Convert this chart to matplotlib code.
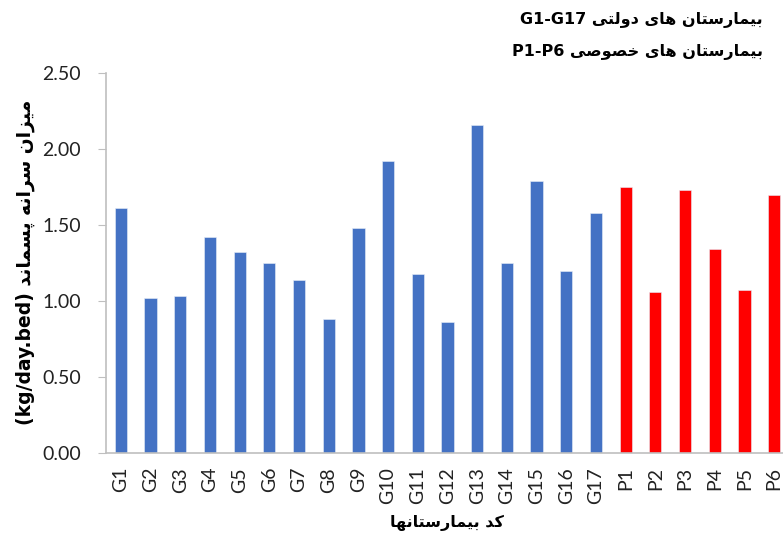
import re
import matplotlib
matplotlib.use("Agg")
import matplotlib.pyplot as plt

# data
gov_labels = ["G%d" % i for i in range(1, 18)]
gov_values = [1.61, 1.02, 1.03, 1.42, 1.32, 1.25, 1.14, 0.88, 1.48, 1.92,
              1.18, 0.86, 2.16, 1.25, 1.79, 1.20, 1.58]
priv_labels = ["P%d" % i for i in range(1, 7)]
priv_values = [1.75, 1.06, 1.73, 1.34, 1.07, 1.70]

title_gov = "بیمارستان های دولتی G1-G17"
title_priv = "بیمارستان های خصوصی P1-P6"
ylabel = "میزان سرانه پسماند (kg/day.bed)"
xlabel = "کد بیمارستانها"

# minimal Persian shaping + right-to-left ordering (matplotlib has no bidi)
FORMS = {
    "ا": ("\uFE8D", "\uFE8E", None, None),
    "ب": ("\uFE8F", "\uFE90", "\uFE91", "\uFE92"),
    "پ": ("\uFB56", "\uFB57", "\uFB58", "\uFB59"),
    "ت": ("\uFE95", "\uFE96", "\uFE97", "\uFE98"),
    "خ": ("\uFEA5", "\uFEA6", "\uFEA7", "\uFEA8"),
    "د": ("\uFEA9", "\uFEAA", None, None),
    "ر": ("\uFEAD", "\uFEAE", None, None),
    "ز": ("\uFEAF", "\uFEB0", None, None),
    "س": ("\uFEB1", "\uFEB2", "\uFEB3", "\uFEB4"),
    "ص": ("\uFEB9", "\uFEBA", "\uFEBB", "\uFEBC"),
    "ک": ("\uFB8E", "\uFB8F", "\uFB90", "\uFB91"),
    "ل": ("\uFEDD", "\uFEDE", "\uFEDF", "\uFEE0"),
    "م": ("\uFEE1", "\uFEE2", "\uFEE3", "\uFEE4"),
    "ن": ("\uFEE5", "\uFEE6", "\uFEE7", "\uFEE8"),
    "ه": ("\uFEE9", "\uFEEA", "\uFEEB", "\uFEEC"),
    "و": ("\uFEED", "\uFEEE", None, None),
    "ی": ("\uFEEF", "\uFEF0", "\uFEF3", "\uFEF4"),
}


def shape(text):
    out = []
    for i, c in enumerate(text):
        if c not in FORMS:
            out.append(c)
            continue
        prev = text[i - 1] if i > 0 else ""
        nxt = text[i + 1] if i + 1 < len(text) else ""
        jp = prev in FORMS and FORMS[prev][2] is not None
        jn = FORMS[c][2] is not None and nxt in FORMS
        iso, fin, ini, med = FORMS[c]
        out.append(med if (jp and jn) else fin if jp else ini if jn else iso)
    return "".join(out)


def rtl(text):
    parts = re.split(r"([A-Za-z0-9][A-Za-z0-9./\-]*)", shape(text))
    out = []
    for p in reversed(parts):
        if re.match(r"[A-Za-z0-9]", p):
            out.append(p)
        else:
            out.append(p[::-1].translate(str.maketrans("()", ")(")))
    return "".join(out)


labels = gov_labels + priv_labels
values = gov_values + priv_values
colors = ["#4472C4"] * len(gov_values) + ["#FF0000"] * len(priv_values)

fig = plt.figure(figsize=(7.83, 5.35), dpi=100)
ax = fig.add_axes([106 / 783, 82 / 535, 683 / 783, 380 / 535])

x = list(range(len(labels)))
ax.bar(x, values, width=0.41, color=colors, edgecolor="#E8EEF8", linewidth=0.4)

ax.set_xlim(-0.5, len(labels) - 0.5)
ax.set_ylim(0, 2.5)
ax.set_yticks([0, 0.5, 1.0, 1.5, 2.0, 2.5])
ax.set_yticklabels(["%.2f" % v for v in [0, 0.5, 1.0, 1.5, 2.0, 2.5]],
                   fontsize=14, family="Lato", color="#222222")
ax.set_xticks(x)
ax.set_xticklabels(labels, rotation=90, fontsize=14, family="Lato",
                   color="#222222")
ax.tick_params(axis="y", length=6, color="#BFBFBF", pad=12)
ax.tick_params(axis="x", length=0, pad=10)

for s in ["top", "right"]:
    ax.spines[s].set_visible(False)
for s in ["left", "bottom"]:
    ax.spines[s].set_color("#BFBFBF")
    ax.spines[s].set_linewidth(1.2)

fig.text(25 / 783, 1 - 262 / 535, rtl(ylabel), rotation=90, ha="center",
         va="center", fontsize=13.5, fontweight="bold", family="DejaVu Sans")
fig.text(447 / 783, 1 - 523 / 535, rtl(xlabel), ha="center", va="center",
         fontsize=11.5, fontweight="bold", family="DejaVu Sans")
fig.text(763 / 783, 1 - 20 / 535, rtl(title_gov), ha="right", va="center",
         fontsize=11.5, fontweight="bold", family="DejaVu Sans")
fig.text(763 / 783, 1 - 52 / 535, rtl(title_priv), ha="right", va="center",
         fontsize=11.5, fontweight="bold", family="DejaVu Sans")

fig.savefig("out.png", dpi=100)
